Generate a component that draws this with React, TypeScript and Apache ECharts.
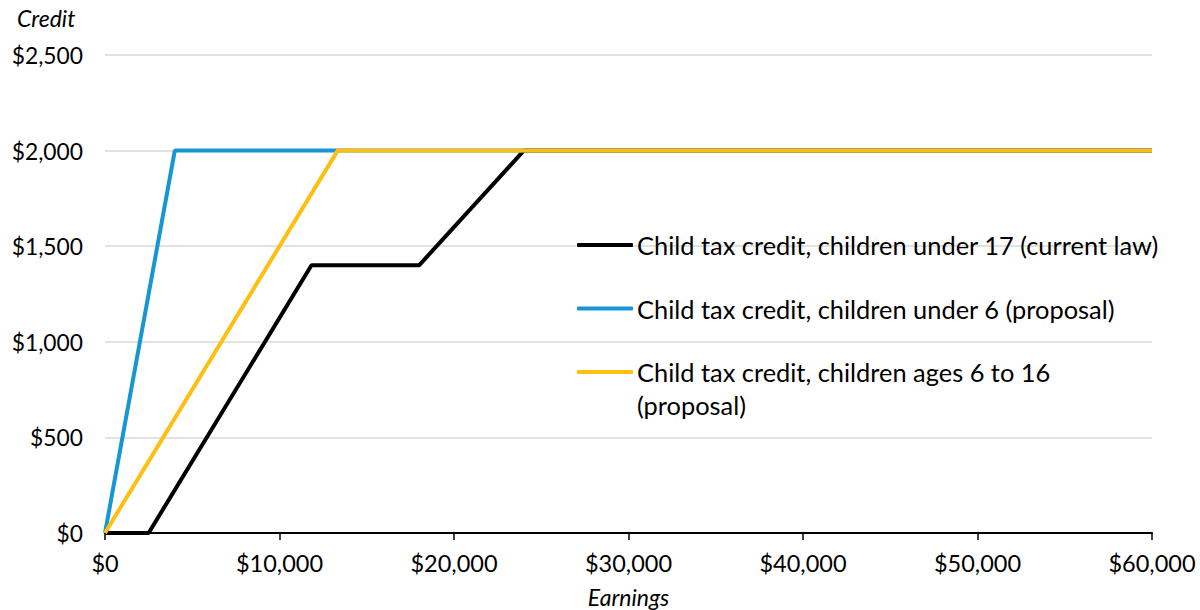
import React, { useEffect, useRef } from "react";
import * as echarts from "echarts";

const currentLawX = [0, 2500, 11833, 18000, 24000, 60000];
const currentLawY = [0, 0, 1400, 1400, 2000, 2000];
const under6X = [0, 4000, 60000];
const under6Y = [0, 2000, 2000];
const ages6to16X = [0, 13333, 60000];
const ages6to16Y = [0, 2000, 2000];
const seriesNames = [
  "Child tax credit, children under 17 (current law)",
  "Child tax credit, children under 6 (proposal)",
  "Child tax credit, children ages 6 to 16",
];
const xTicks = [0, 10000, 20000, 30000, 40000, 50000, 60000];
const yTicks = [0, 500, 1000, 1500, 2000, 2500];

const pair = (xs: number[], ys: number[]) => xs.map((x, i) => [x, ys[i]]);
const fmt = (v: number) => "$" + v.toLocaleString("en-US");
const FONT = "Lato";

export default function App() {
  const ref = useRef<HTMLDivElement>(null);
  useEffect(() => {
    if (!ref.current) return;
    const chart = echarts.init(ref.current, null, { renderer: "svg" });
    chart.setOption({
      animation: false,
      textStyle: { fontFamily: FONT },
      grid: { left: 105, right: 48, top: 55, bottom: 77, containLabel: false, outerBoundsMode: "none" },
      xAxis: {
        type: "value",
        min: xTicks[0],
        max: xTicks[xTicks.length - 1],
        interval: 10000,
        name: "Earnings",
        nameLocation: "middle",
        nameGap: 52,
        nameTextStyle: { fontFamily: FONT, fontStyle: "italic", fontSize: 23, color: "#000" },
        axisLine: { lineStyle: { color: "#000", width: 2 } },
        axisTick: { show: true, length: 7, lineStyle: { color: "#000", width: 1.5 } },
        axisLabel: { formatter: (v: number) => fmt(v), fontSize: 23.5, color: "#000", margin: 18, fontFamily: FONT },
        splitLine: { show: false },
      },
      yAxis: {
        type: "value",
        min: yTicks[0],
        max: yTicks[yTicks.length - 1],
        interval: 500,
        axisLine: { show: false },
        axisTick: { show: false },
        axisLabel: { formatter: (v: number) => fmt(v), fontSize: 22.8, color: "#000", margin: 22, fontFamily: FONT },
        splitLine: { lineStyle: { color: "#d9d9d9", width: 1.5 } },
      },
      legend: {
        orient: "vertical",
        left: 577,
        top: 229,
        padding: 0,
        itemGap: 31.5,
        itemWidth: 56,
        itemHeight: 4,
        icon: "roundRect",
        textStyle: { fontSize: 25.4, color: "#000", lineHeight: 32, fontFamily: FONT, padding: [0, 0, 0, -1] },
        data: seriesNames,
      },
      graphic: [
        {
          type: "text",
          left: 17,
          top: 6,
          style: { text: "Credit", font: `italic 23px ${FONT}`, fill: "#000" },
        },
        {
          type: "text",
          left: 637,
          top: 389,
          style: { text: "(proposal)", font: `25.4px ${FONT}`, lineHeight: 32, fill: "#000" },
        },
      ],
      series: [
        {
          name: seriesNames[0],
          type: "line",
          data: pair(currentLawX, currentLawY),
          showSymbol: false,
          lineStyle: { color: "#000000", width: 4 },
          itemStyle: { color: "#000000" },
          z: 3,
        },
        {
          name: seriesNames[1],
          type: "line",
          data: pair(under6X, under6Y),
          showSymbol: false,
          lineStyle: { color: "#1696d2", width: 4 },
          itemStyle: { color: "#1696d2" },
          z: 4,
        },
        {
          name: seriesNames[2],
          type: "line",
          data: pair(ages6to16X, ages6to16Y),
          showSymbol: false,
          lineStyle: { color: "#fdbf11", width: 4 },
          itemStyle: { color: "#fdbf11" },
          z: 5,
        },
      ],
    });
    return () => chart.dispose();
  }, []);
  return <div ref={ref} style={{ width: 1200, height: 610, position: "absolute", left: 0, top: 0 }} />;
}
